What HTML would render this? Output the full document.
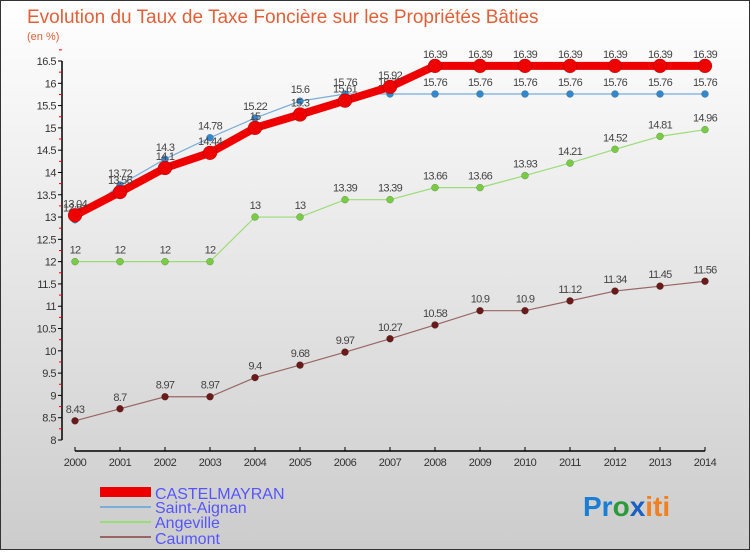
<!DOCTYPE html>
<html><head><meta charset="utf-8"><style>
body{margin:0;width:750px;height:550px;overflow:hidden;font-family:"Liberation Sans",sans-serif}
svg text{font-family:"Liberation Sans",sans-serif}
</style></head><body>
<svg width="750" height="550" xmlns="http://www.w3.org/2000/svg">
<defs><linearGradient id="bg" x1="0" y1="0" x2="0" y2="1"><stop offset="0" stop-color="#ffffff"/><stop offset="1" stop-color="#cccccc"/></linearGradient></defs>
<rect x="0.5" y="0.5" width="749" height="549" fill="url(#bg)" stroke="#333"/>
<text x="27" y="23" font-size="19" fill="#e0603a">Evolution du Taux de Taxe Foncière sur les Propriétés Bâties</text>
<text x="27" y="40" font-size="11" fill="#e0603a">(en %)</text>
<g id="axes"></g>
<g id="plot"></g>
<g>
<line x1="100" y1="492" x2="151" y2="492" stroke="#ee0000" stroke-width="10"/>
<text x="155" y="499" font-size="16" fill="#5555ff">CASTELMAYRAN</text>
<line x1="100" y1="507" x2="151" y2="507" stroke="#7aaed8" stroke-width="2"/>
<text x="155" y="513" font-size="16" fill="#5555ff">Saint-Aignan</text>
<line x1="100" y1="522" x2="151" y2="522" stroke="#99dd77" stroke-width="2"/>
<text x="155" y="528" font-size="16" fill="#5555ff">Angeville</text>
<line x1="100" y1="537" x2="151" y2="537" stroke="#996666" stroke-width="2"/>
<text x="155" y="544" font-size="16" fill="#5555ff">Caumont</text>
</g>
<text x="583" y="516" font-size="28" font-weight="bold"><tspan fill="#1a7fd4">Pr</tspan><tspan fill="#2a9a3a">o</tspan><tspan fill="#1a60c0">x</tspan><tspan fill="#f08020">iti</tspan></text>
</svg>
<script>
const years=[2000,2001,2002,2003,2004,2005,2006,2007,2008,2009,2010,2011,2012,2013,2014];
const yTicks=[8,8.5,9,9.5,10,10.5,11,11.5,12,12.5,13,13.5,14,14.5,15,15.5,16,16.5];
const castelmayran=[13.04,13.56,14.1,14.44,15,15.3,15.61,15.92,16.39,16.39,16.39,16.39,16.39,16.39,16.39];
const saintAignan=[12.94,13.72,14.3,14.78,15.22,15.6,15.76,15.76,15.76,15.76,15.76,15.76,15.76,15.76,15.76];
const angeville=[12,12,12,12,13,13,13.39,13.39,13.66,13.66,13.93,14.21,14.52,14.81,14.96];
const caumont=[8.43,8.7,8.97,8.97,9.4,9.68,9.97,10.27,10.58,10.9,10.9,11.12,11.34,11.45,11.56];
const NS='http://www.w3.org/2000/svg';
const X=i=>75+i*(630/14);
const Y=v=>440-(v-8)*(379/8.5);
function mk(t,a,p){const e=document.createElementNS(NS,t);for(const k in a)e.setAttribute(k,a[k]);p.appendChild(e);return e;}
const axes=document.getElementById('axes'),plot=document.getElementById('plot');
const ya=mk('line',{x1:62,y1:Y(16.5),x2:62,y2:Y(8),stroke:'#000','stroke-width':1.5},axes);


yTicks.forEach(v=>{
 mk('line',{x1:58,y1:Y(v),x2:62,y2:Y(v),stroke:'#000'},axes);
 mk('line',{x1:59,y1:Y(v+0.25),x2:62,y2:Y(v+0.25),stroke:'#e00'},axes);
 const t=mk('text',{x:56,y:Y(v)+4,'font-size':11,'text-anchor':'end',fill:'#333','letter-spacing':'-0.5'},axes);
 t.textContent=v;
 
 
});
const xa=mk('line',{x1:75,y1:451,x2:705,y2:451,stroke:'#000','stroke-width':1.5},axes);


years.forEach((y,i)=>{
 mk('line',{x1:X(i),y1:447,x2:X(i),y2:451,stroke:'#000'},axes);
 const t=mk('text',{x:X(i),y:466,'font-size':11,'text-anchor':'middle',fill:'#333','letter-spacing':'-0.5'},axes);
 t.textContent=y;
 
 
});
function series(name,d,color,w,r,fill){
 const g=mk('g',{},plot);
 
 
 mk('polyline',{points:d.map((v,i)=>X(i)+','+Y(v)).join(' '),fill:'none',stroke:color,'stroke-width':w},g);
 d.forEach((v,i)=>{
  const c=mk('circle',{cx:X(i),cy:Y(v),r:r,fill:fill,stroke:'rgba(0,0,0,0.3)','stroke-width':0.5},g);
  
  
  const t=mk('text',{x:X(i),y:Y(v)-8,'font-size':11,'text-anchor':'middle',fill:'#444','letter-spacing':'-0.7'},g);
  t.textContent=v;
  
  
 });
}
series('caumont',caumont,'#996666',1.2,3.5,'#6b1a1a');
series('angeville',angeville,'#99dd77',1.2,3.5,'#77cc44');
series('saint-aignan',saintAignan,'#7aaed8',1.2,3.5,'#3388cc');
series('castelmayran',castelmayran,'#ee0000',8,7,'#ee0000');
</script>
</body></html>
